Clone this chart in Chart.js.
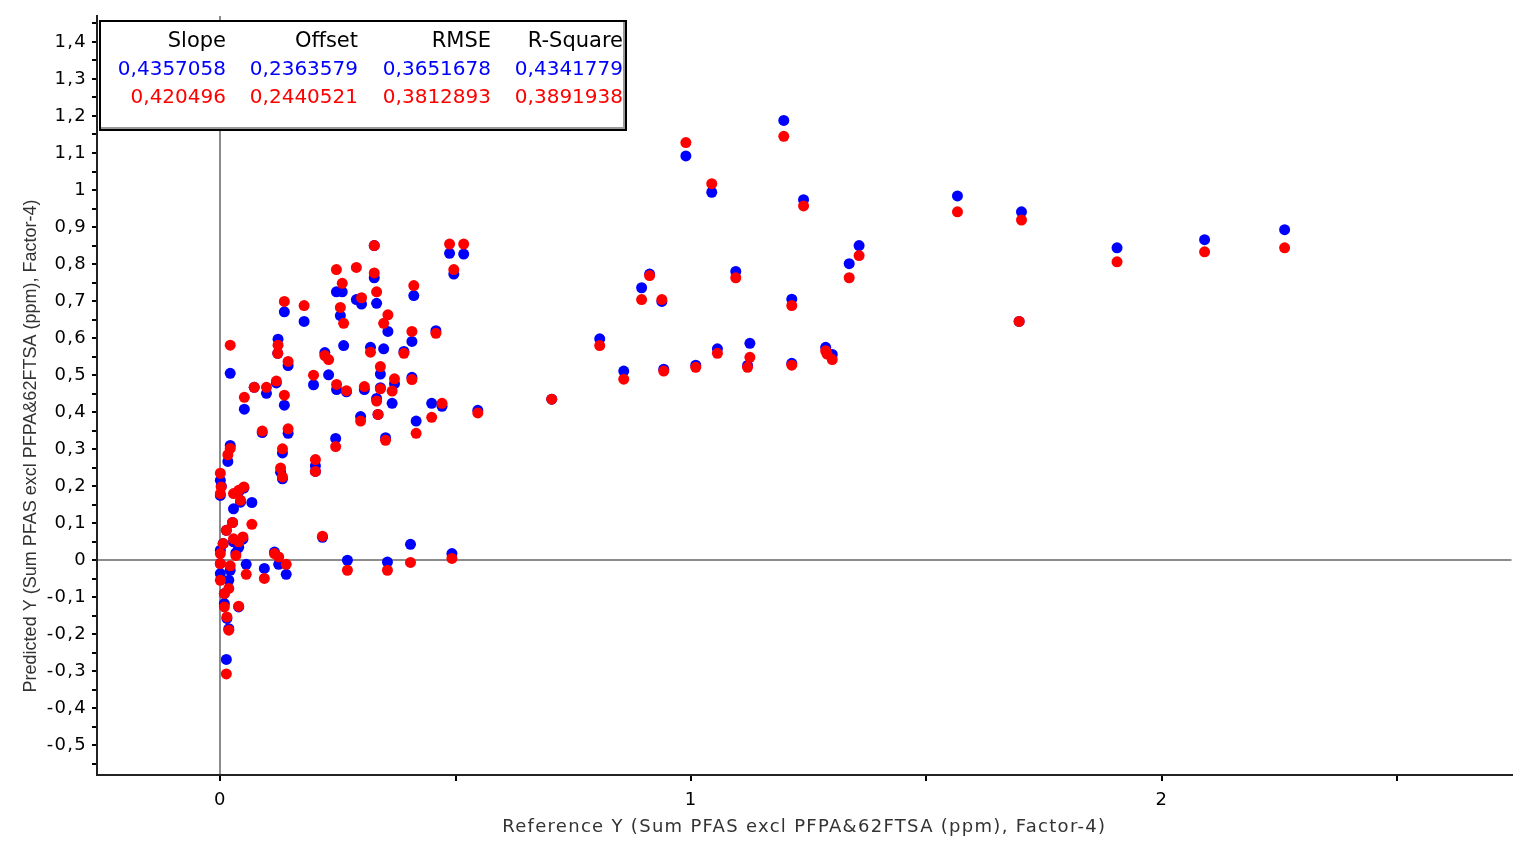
<!DOCTYPE html>
<html>
<head>
<meta charset="utf-8">
<script src="https://cdn.jsdelivr.net/npm/chart.js@4.4.1/dist/chart.umd.min.js"></script>
<style>
  body { margin: 0; background: #fff; }
  #wrap { position: relative; width: 1517px; height: 851px; }
  #stats {
    position: absolute; left: 99px; top: 20px; width: 524px; height: 107px;
    border: 2px solid #000; box-shadow: inset -2px -2px 0 #999; background: #fff;
    font-family: "DejaVu Sans", sans-serif; font-size: 20px;
  }
  #stats div { position: absolute; width: 150px; text-align: right; line-height: 24px; white-space: nowrap; }
  #stats div.head { font-size: 21px; }
</style>
</head>
<body>
<div id="wrap">
  <canvas id="chart" width="1517" height="851"></canvas>
  <div id="stats"></div>
</div>
<script>
// reference values (x) and predicted values for the two models
const refY = [
  2.261, 2.091, 1.905, 1.702, 1.697, 1.566, 1.357, 1.336, 1.300, 1.289,
  1.286, 1.239, 1.214, 1.214, 1.197, 1.125, 1.120, 1.095, 1.056, 1.044,
  1.010, 0.989, 0.942, 0.938, 0.912, 0.895, 0.857, 0.806, 0.704, 0.547,
  0.517, 0.496, 0.492, 0.487, 0.471, 0.458, 0.449, 0.416, 0.411, 0.407,
  0.407, 0.404, 0.390, 0.370, 0.365, 0.356, 0.355, 0.351, 0.347, 0.340,
  0.340, 0.335, 0.332, 0.332, 0.327, 0.327, 0.319, 0.306, 0.300, 0.298,
  0.289, 0.270, 0.268, 0.262, 0.259, 0.255, 0.247, 0.2466, 0.245, 0.230,
  0.222, 0.217, 0.198, 0.202, 0.202, 0.178, 0.144, 0.144, 0.140, 0.136,
  0.136, 0.132, 0.132, 0.128, 0.124, 0.1226, 0.122, 0.119, 0.115, 0.098,
  0.0935, 0.089, 0.072, 0.067, 0.055, 0.051, 0.050, 0.043, 0.039, 0.039,
  0.028, 0.026, 0.021, 0.021, 0.021, 0.018, 0.018, 0.016, 0.014, 0.0128,
  0.0128, 0.0085, 0.0085, 0.006, 0.002, 0.000, 0.000, 0.000, 0.000, 0.000,
  0.028, 0.039, 0.033, 0.048
];
const predBlue = [
  0.893, 0.866, 0.844, 0.941, 0.645, 0.984, 0.850, 0.801, 0.556, 0.560,
  0.575, 0.974, 0.705, 0.532, 1.188, 0.586, 0.526, 0.780, 0.571, 0.994,
  0.527, 1.092, 0.516, 0.699, 0.773, 0.736, 0.511, 0.598, 0.435, 0.405,
  0.827, 0.773, 0.018, 0.829, 0.416, 0.620, 0.424, 0.376, 0.715, 0.591,
  0.494, 0.043, 0.564, 0.477, 0.424, 0.618, -0.005, 0.331, 0.571, 0.503,
  0.466, 0.394, 0.437, 0.694, 0.763, 0.850, 0.575, 0.461, 0.692, 0.388,
  0.704, 0.000, 0.455, 0.580, 0.725, 0.661, 0.461, 0.725, 0.329, 0.501,
  0.561, 0.062, 0.474, 0.255, 0.240, 0.645, 0.526, 0.343, -0.038, 0.671,
  0.419, 0.290, 0.220, 0.238, -0.011, 0.597, 0.559, 0.479, 0.022, 0.451,
  -0.022, 0.345, 0.467, 0.156, -0.011, 0.408, 0.195, 0.157, -0.126, 0.185,
  0.139, 0.102, 0.505, 0.310, -0.027, -0.054, -0.185, 0.267, -0.157, -0.268,
  0.081, -0.117, -0.090, 0.045, 0.200, 0.216, 0.175, 0.027, -0.009, -0.036,
  0.050, 0.035, 0.020, 0.057
];
const predRed = [
  0.844, 0.833, 0.806, 0.919, 0.645, 0.941, 0.823, 0.763, 0.542, 0.557,
  0.566, 0.957, 0.688, 0.527, 1.145, 0.548, 0.521, 0.763, 0.559, 1.017,
  0.521, 1.128, 0.511, 0.704, 0.769, 0.704, 0.489, 0.580, 0.435, 0.398,
  0.854, 0.785, 0.005, 0.854, 0.424, 0.613, 0.386, 0.343, 0.742, 0.618,
  0.488, -0.006, 0.559, 0.490, 0.457, 0.663, -0.027, 0.324, 0.640, 0.523,
  0.463, 0.394, 0.430, 0.725, 0.776, 0.850, 0.562, 0.469, 0.709, 0.376,
  0.791, -0.027, 0.458, 0.640, 0.748, 0.683, 0.475, 0.785, 0.307, 0.542,
  0.553, 0.065, 0.500, 0.272, 0.240, 0.688, 0.537, 0.355, -0.011, 0.699,
  0.446, 0.301, 0.225, 0.249, 0.009, 0.581, 0.559, 0.484, 0.018, 0.467,
  -0.049, 0.349, 0.467, 0.097, -0.038, 0.440, 0.198, 0.162, -0.124, 0.189,
  0.180, 0.102, 0.581, 0.302, -0.015, -0.076, -0.189, 0.285, -0.153, -0.307,
  0.081, -0.126, -0.090, 0.045, 0.198, 0.235, 0.180, 0.018, -0.009, -0.054,
  0.058, 0.050, 0.013, 0.063
];

const statHeaders = ['Slope', 'Offset', 'RMSE', 'R-Square'];
const statsBlue = ['0,4357058', '0,2363579', '0,3651678', '0,4341779'];
const statsRed = ['0,420496', '0,2440521', '0,3812893', '0,3891938'];

const xTitle = 'Reference Y (Sum PFAS excl PFPA&62FTSA (ppm), Factor-4)';
const yTitle = 'Predicted Y (Sum PFAS excl PFPA&62FTSA (ppm), Factor-4)';

// stats box (column right edges relative to the box)
const colRight = [125, 257, 390, 522];
const rowTop = [6, 34, 62];
const box = document.getElementById('stats');
[[statHeaders, '#000'], [statsBlue, '#0000ff'], [statsRed, '#ff0000']].forEach(([row, color], r) => {
  row.forEach((txt, c) => {
    const d = document.createElement('div');
    d.textContent = txt;
    d.style.color = color;
    if (r === 0) d.className = 'head';
    d.style.left = (colRight[c] - 150) + 'px';
    d.style.top = rowTop[r] + 'px';
    box.appendChild(d);
  });
});

const fmt = v => {
  const s = (Math.round(v * 10) / 10).toString();
  return s.replace('.', ',');
};

const toPoints = ys => refY.map((x, i) => ({ x: x, y: ys[i] }));

// the original's axis text is a bit wider-set than the fonts we have
const spacingPlugin = {
  id: 'spacing',
  beforeDraw(chart) { chart.ctx.letterSpacing = '1.3px'; },
  afterDraw(chart) { chart.ctx.letterSpacing = '0px'; },
};

// y-axis title drawn by hand so it can sit where the original has it
const yTitlePlugin = {
  id: 'yTitle',
  afterDraw(chart) {
    const ctx = chart.ctx;
    ctx.save();
    ctx.letterSpacing = '0px';
    ctx.translate(31, 446);
    ctx.rotate(-Math.PI / 2);
    ctx.font = '18px "Liberation Sans", Arial, sans-serif';
    ctx.fillStyle = '#333';
    ctx.textAlign = 'center';
    ctx.textBaseline = 'middle';
    ctx.fillText(yTitle, 0, 0);
    ctx.restore();
  }
};

new Chart(document.getElementById('chart'), {
  type: 'scatter',
  data: {
    datasets: [
      {
        label: 'Model 1',
        data: toPoints(predBlue),
        backgroundColor: '#0000ff',
        pointRadius: 5.5,
        pointBorderWidth: 0,
        order: 1,
      },
      {
        label: 'Model 2',
        data: toPoints(predRed),
        backgroundColor: '#ff0000',
        pointRadius: 5.5,
        pointBorderWidth: 0,
        order: 0,
      },
    ],
  },
  options: {
    responsive: false,
    animation: false,
    layout: { padding: { top: 16, right: 0, left: 0, bottom: 0 } },
    plugins: {
      legend: { display: false },
      tooltip: { enabled: false },
    },
    scales: {
      x: {
        type: 'linear',
        min: -0.262,
        max: 2.743,
        afterBuildTicks: scale => {
          scale.ticks = [0, 0.5, 1, 1.5, 2, 2.5].map(v => ({ value: v }));
        },
        afterFit: scale => { scale.height = 76; },
        border: { display: true, color: '#222', width: 2 },
        grid: {
          drawOnChartArea: true,
          color: ctx => (ctx.tick && ctx.tick.value === 0 ? '#8c8c8c' : 'rgba(0,0,0,0)'),
          lineWidth: 2,
          tickColor: '#000',
          tickWidth: 2,
          tickLength: 6,
        },
        ticks: {
          color: '#000',
          padding: 9,
          maxRotation: 0,
          autoSkip: false,
          font: { family: '"DejaVu Sans", sans-serif', size: 18 },
          callback: v => (Number.isInteger(v) ? String(v) : ''),
        },
        title: {
          display: true,
          text: xTitle,
          color: '#333',
          padding: { top: 0, bottom: 13 },
          font: { family: '"DejaVu Sans", sans-serif', size: 18 },
        },
      },
      y: {
        type: 'linear',
        min: -0.58,
        max: 1.47,
        afterBuildTicks: scale => {
          const t = [];
          for (let i = -11; i <= 29; i++) t.push({ value: i / 20 });
          scale.ticks = t;
        },
        afterFit: scale => { scale.width = 97; },
        border: { display: true, color: '#222', width: 2 },
        grid: {
          drawOnChartArea: true,
          color: ctx => (ctx.tick && Math.abs(ctx.tick.value) < 1e-9 ? '#8c8c8c' : 'rgba(0,0,0,0)'),
          lineWidth: 2,
          tickColor: '#000',
          tickWidth: 2,
          tickLength: 5,
        },
        ticks: {
          color: '#000',
          padding: 5,
          autoSkip: false,
          font: { family: '"DejaVu Sans", sans-serif', size: 18 },
          callback: v => (Math.round(v * 20) % 2 === 0 ? fmt(v) : ''),
        },
        title: { display: false },
      },
    },
  },
  plugins: [spacingPlugin, yTitlePlugin],
});
</script>
</body>
</html>
